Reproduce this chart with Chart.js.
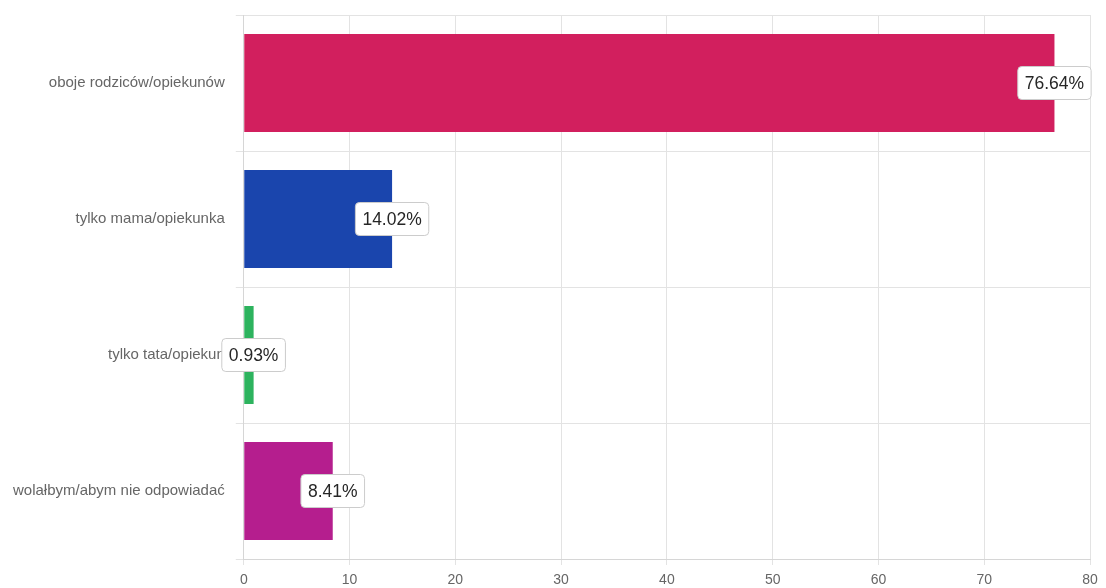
<!DOCTYPE html>
<html>
<head>
<meta charset="utf-8">
<script src="https://cdn.jsdelivr.net/npm/chart.js@4.4.0/dist/chart.umd.min.js"></script>
<style>
  html, body { margin: 0; padding: 0; background: #fff; }
  #wrap { width: 1106px; height: 588px; }
</style>
</head>
<body>
<div id="wrap"><canvas id="chart"></canvas></div>
<script>
// data
const categories = [
  "oboje rodziców/opiekunów",
  "tylko mama/opiekunka",
  "tylko tata/opiekun",
  "wolałbym/abym nie odpowiadać"
];
const values = [76.64, 14.02, 0.93, 8.41];
const barColors = ["#d21f5e", "#1a45ad", "#2db35e", "#b51e8e"];
const xTicks = [0, 10, 20, 30, 40, 50, 60, 70, 80];

// value boxes at the end of each bar
const boxLabels = {
  id: "boxLabels",
  afterDatasetsDraw(chart) {
    const ctx = chart.ctx;
    const meta = chart.getDatasetMeta(0);
    ctx.save();
    ctx.font = "17.5px 'Liberation Sans', Arial, sans-serif";
    ctx.textAlign = "center";
    ctx.textBaseline = "middle";
    meta.data.forEach((bar, i) => {
      const txt = values[i].toFixed(2) + "%";
      const w = ctx.measureText(txt).width + 14;
      const h = 33;
      const x = bar.x - w / 2;
      const y = bar.y - h / 2;
      ctx.beginPath();
      ctx.roundRect(x, y, w, h, 4);
      ctx.fillStyle = "#ffffff";
      ctx.fill();
      ctx.strokeStyle = "#cccccc";
      ctx.lineWidth = 1;
      ctx.stroke();
      ctx.fillStyle = "#262626";
      ctx.fillText(txt, bar.x, bar.y + 1);
    });
    ctx.restore();
  }
};

new Chart(document.getElementById("chart"), {
  type: "bar",
  data: {
    labels: categories,
    datasets: [{
      data: values,
      backgroundColor: barColors,
      borderWidth: 0
    }]
  },
  options: {
    indexAxis: "y",
    responsive: true,
    maintainAspectRatio: false,
    animation: false,
    layout: { padding: { top: 15, right: 16, left: 2, bottom: 0 } },
    plugins: {
      legend: { display: false },
      tooltip: { enabled: false }
    },
    scales: {
      x: {
        min: 0,
        max: 80,
        afterBuildTicks: axis => { axis.ticks = xTicks.map(v => ({ value: v })); },
        afterFit: scale => { scale.height = 29; },
        grid: { color: "#e3e3e3", tickLength: 6 },
        border: { color: "#d6d6d6" },
        ticks: {
          color: "#666",
          padding: 7,
          font: { size: 14, family: "'Liberation Sans', Arial, sans-serif" }
        }
      },
      y: {
        afterFit: scale => { scale.paddingTop = 0; scale.paddingBottom = 0; },
        grid: { color: "#e3e3e3", tickLength: 8 },
        border: { color: "#d6d6d6" },
        ticks: {
          color: "#666",
          padding: 11,
          font: { size: 15, family: "'Liberation Sans', Arial, sans-serif" }
        }
      }
    }
  },
  plugins: [boxLabels]
});
</script>
</body>
</html>
